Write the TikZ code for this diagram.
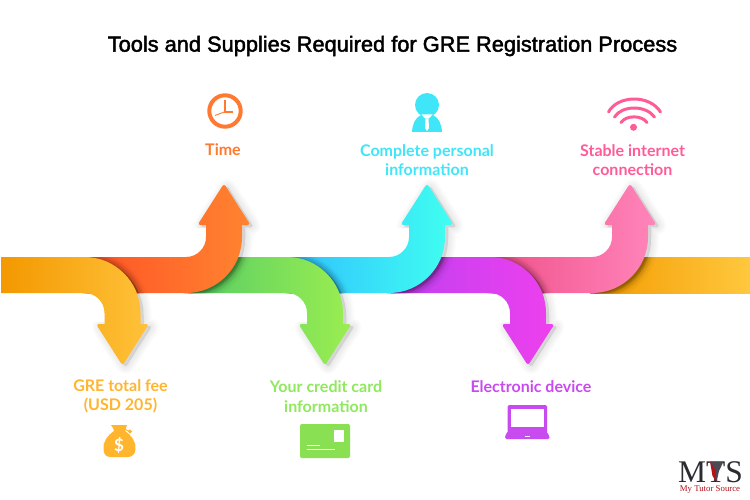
\documentclass[tikz,border=0pt]{standalone}
\usepackage{fontspec}
\setmainfont{Lato}
\newfontfamily\titlefont[FakeBold=2]{Liberation Sans}
\newfontfamily\logofont{Liberation Serif}
\definecolor{cYel}{HTML}{FFB52E}
\definecolor{cOra}{HTML}{FF7A30}
\definecolor{cGrn}{HTML}{8FE85E}
\definecolor{cCya}{HTML}{3FE6F8}
\definecolor{cPur}{HTML}{C84BF0}
\definecolor{cPnk}{HTML}{FF5C96}
\definecolor{cCard}{HTML}{88E052}
\definecolor{gA}{HTML}{F39800}\definecolor{gB}{HTML}{FFC23A}
\definecolor{gC}{HTML}{FF5225}\definecolor{gD}{HTML}{FF8430}
\definecolor{gE}{HTML}{55CC66}\definecolor{gF}{HTML}{9BEE50}
\definecolor{gG}{HTML}{30C0FF}\definecolor{gH}{HTML}{40FFF0}
\definecolor{gI}{HTML}{BE40F0}\definecolor{gJ}{HTML}{EE40EE}
\definecolor{gK}{HTML}{F0508A}\definecolor{gL}{HTML}{FF85BA}
\definecolor{gM}{HTML}{F39A00}\definecolor{gN}{HTML}{FFC83E}
\definecolor{logoDark}{HTML}{2B2B30}
\definecolor{logoGrey}{HTML}{4A4A55}
\definecolor{logoRed}{HTML}{B3121D}
\newcommand\downpath[1]{(#1,257) -- (-38,257) .. controls (-7.07,257) and (18,282.07) .. (18,313) -- (18,324) -- (20,324) [rounded corners=3] -- (26.5,324) -- (0,365.5) -- (-26.5,324) -- (-21,324) [sharp corners] -- (-18,324) -- (-18,313) .. controls (-18,302) and (-27,293) .. (-38,293) -- (#1,293) -- cycle}
\newcommand\uppath[1]{(#1,257) -- (-38,257) .. controls (-27,257) and (-18,248) .. (-18,237) -- (-18,225) -- (-20,225) [rounded corners=3] -- (-26.5,225) -- (0,183.5) -- (26.5,225) -- (21,225) [sharp corners] -- (18,225) -- (18,237) .. controls (18,267.93) and (-7.07,293) .. (-38,293) -- (#1,293) -- cycle}
\newcommand\downclip{(-60,257) -- (70,257) -- (70,390) -- (-45,390) -- (-45,322) -- (-18,322) -- (-18,293) -- (-60,293) -- cycle}
\newcommand\upclip{(-60,293) -- (70,293) -- (70,160) -- (-45,160) -- (-45,228) -- (-18,228) -- (-18,257) -- (-60,257) -- cycle}
% #1 tip x, #2 ribbon path, #3 shadow path, #4 shadow clip, #5 #6 gradient
\newcommand\softarrow[6]{%
  \begin{scope}[shift={(#1,0)}]
    \begin{scope}
      \clip #4;
      \foreach \w in {16,13,10,7,4,1}{%
        \filldraw[black,fill opacity=.016,draw opacity=.014,line width=\w pt,line join=round,shift={(3,2)}] #3;}
    \end{scope}
    \begin{scope}
      \clip (-60,257) rectangle (70,293);
      \foreach \w in {10,6,3}{%
        \filldraw[black,fill opacity=.05,draw opacity=.05,line width=\w pt,line join=round,shift={(2,1)}] #3;}
    \end{scope}
    \shade[left color=#5,right color=#6] #2;
  \end{scope}}
\tikzset{
  lbl/.style={font=\fontsize{16}{19.5}\selectfont\bfseries,align=center,inner sep=0pt},
  wifiarc/.style={draw=cPnk,line width=3pt,line cap=round}
}
\begin{document}
\begin{tikzpicture}[x=1pt,y=-1pt]
\useasboundingbox (0,0) rectangle (750,500);
\fill[white] (0,0) rectangle (750,500);
% ribbon, back to front
\shade[left color=gM,right color=gN] (590,257) rectangle (750,293);
\softarrow{630}{\uppath{-142}}{\uppath{-38}}{\upclip}{gK}{gL}
\softarrow{528}{\downpath{-141}}{\downpath{-38}}{\downclip}{gI}{gJ}
\softarrow{427}{\uppath{-142}}{\uppath{-38}}{\upclip}{gG}{gH}
\softarrow{325}{\downpath{-141}}{\downpath{-38}}{\downclip}{gE}{gF}
\softarrow{224}{\uppath{-141.5}}{\uppath{-38}}{\upclip}{gC}{gD}
\softarrow{122.5}{\downpath{-121.5}}{\downpath{-38}}{\downclip}{gA}{gB}
% title
\node[inner sep=0pt,font=\titlefont\fontsize{21.8}{25}\selectfont] (title) at (392.5,46) {Tools and Supplies Required for GRE Registration Process};
% labels
\node[lbl,text=cOra] (time) at (223,149.5) {Time};
\node[lbl,text=cCya] (personal) at (427,160) {Complete personal\\information};
\node[lbl,text=cPnk] (internet) at (632.5,160) {Stable internet\\connection};
\node[lbl,text=cYel] (fee) at (120.5,396.5) {GRE total fee\\(USD 205)};
\node[lbl,text=cGrn] (card) at (326,396.5) {Your credit card\\information};
\node[lbl,text=cPur] (device) at (531,387) {Electronic device};
% clock
\draw[cOra,line width=4pt] (225,111) circle (15.7);
\draw[cOra,line width=1.8pt,line join=miter] (225,100) -- (225,111.7) -- (233,111.7);
\draw[cOra,line width=.9pt] (225,111.7) -- (215,115.5);
% person
\fill[cCya] (427,105) circle (12);
\fill[cCya] (412,132) .. controls (412.5,124) and (415,118) .. (421,115) -- (433,115) .. controls (439,118) and (441.5,124) .. (442,132) -- cycle;
\fill[white] (421.5,114.5) -- (432.5,114.5) -- (429,118.5) -- (425,118.5) -- cycle;
\fill[white] (425.5,118.5) -- (428.5,118.5) -- (429,128) -- (427,131) -- (425,128) -- cycle;
% wifi
\draw[wifiarc] (608.5,112) .. controls (618,94.7) and (650,94.7) .. (660.5,112);
\draw[wifiarc] (614.5,117) .. controls (622,105) and (646,105) .. (654.5,117);
\draw[wifiarc] (621,122.5) .. controls (626,115) and (642,115) .. (647,122.5);
\fill[cPnk] (633.5,127.3) circle (3.5);
% money bag
\fill[cYel] (111,425) -- (127,425) -- (126,428) -- (125,431) .. controls (131,435) and (136,441) .. (135.5,449) .. controls (135.5,454) and (132,457) .. (128,457) -- (110,457) .. controls (106,457) and (103.5,454) .. (103.5,449) .. controls (103,441) and (108,435) .. (114,431) -- (113,428) -- cycle;
\draw[cYel,line width=1pt] (125,429.5) -- (130,431.5) (130,431.5) circle (1.4);
\node[inner sep=0pt,text=white,font=\fontsize{17}{17}\selectfont\bfseries] (dollar) at (119,445.5) {\$};
% credit card
\fill[cCard,rounded corners=2pt] (300,424) rectangle (350,458);
\fill[white] (334,430) rectangle (344,442);
\draw[white,line width=.6pt] (306.5,445.3) -- (320,445.3) (306.5,449.3) -- (335,449.3);
% laptop
\fill[cPur,rounded corners=1.5pt] (507.5,405) rectangle (547,433);
\fill[white] (510.5,409) rectangle (544,427);
\fill[cPur,rounded corners=1.5pt] (508,431) -- (546,431) -- (549.5,436) -- (549.5,439) -- (505,439) -- (505,436) -- cycle;
\draw[white,line width=.6pt] (524.5,436.5) -- (530,436.5);
% logo
\node[inner sep=0pt,anchor=base,font=\logofont\fontsize{31.5}{32}\selectfont,text=logoDark] (mts) at (710.5,482) {MTS};
\fill[logoGrey] (710,461.5) -- (723.5,461.5) -- (719,471) -- (716.5,482) -- cycle;
\fill[logoRed] (710,461.5) -- (715.5,470) -- (716.5,482) -- (712.5,476) -- cycle;
\node[inner sep=0pt,anchor=base,font=\logofont\fontsize{8.8}{9}\selectfont,text=logoRed] (tutor) at (710,491) {My Tutor Source};
\end{tikzpicture}
\end{document}
